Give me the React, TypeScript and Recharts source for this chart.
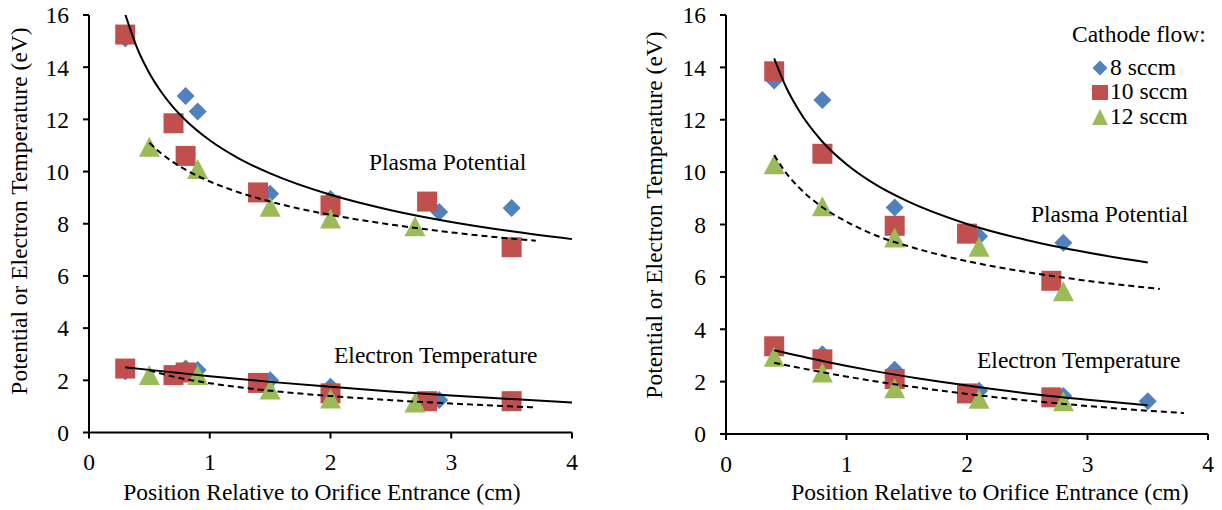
import React from "react";
import { ScatterChart, Scatter, XAxis, YAxis, Legend } from "recharts";

const FONT = "Liberation Serif, Times New Roman, serif";
const FS = 23.5;
const BLUE = "#4F81BD";
const RED = "#C0504D";
const GREEN = "#9BBB59";

const X_TICKS = [0, 1, 2, 3, 4];
const Y_TICKS = [0, 2, 4, 6, 8, 10, 12, 14, 16];
const FLOW_NAMES = ["8 sccm", "10 sccm", "12 sccm"];

// left panel: measured points
const LEFT_X_8 = [0.3, 0.8, 0.9, 1.5, 2.0, 2.9, 3.5];
const LEFT_PP_8 = [15.1, 12.9, 12.3, 9.15, 8.95, 8.45, 8.6];
const LEFT_TE_8 = [2.35, 2.45, 2.4, 2.0, 1.75, 1.25, 1.25];
const LEFT_X_10 = [0.3, 0.7, 0.8, 1.4, 2.0, 2.8, 3.5];
const LEFT_PP_10 = [15.25, 11.85, 10.6, 9.2, 8.7, 8.85, 7.1];
const LEFT_TE_10 = [2.45, 2.2, 2.3, 1.9, 1.5, 1.2, 1.2];
const LEFT_X_12 = [0.5, 0.9, 1.5, 2.0, 2.7];
const LEFT_PP_12 = [10.95, 10.1, 8.65, 8.2, 7.9];
const LEFT_TE_12 = [2.2, 2.2, 1.65, 1.3, 1.15];

// left panel: trend lines
const LEFT_FIT_PP_X = [0.3, 0.4, 0.5, 0.6, 0.7, 0.8, 1.0, 1.25, 1.5, 2.0, 2.5, 3.0, 3.5, 4.0];
const LEFT_FIT_PP = [16.03, 14.72, 13.77, 13.04, 12.45, 11.97, 11.2, 10.48, 9.93, 9.11, 8.52, 8.07, 7.71, 7.41];
const LEFT_FIT_PP12_X = [0.5, 0.6, 0.7, 0.8, 1.0, 1.25, 1.5, 2.0, 2.5, 3.0, 3.5, 3.7];
const LEFT_FIT_PP12 = [11.1, 10.69, 10.35, 10.07, 9.62, 9.19, 8.85, 8.34, 7.97, 7.67, 7.43, 7.35];
const LEFT_FIT_TE_X = [0.3, 0.5, 1.0, 1.5, 2.0, 2.5, 3.0, 3.5, 4.0];
const LEFT_FIT_TE = [2.5, 2.4, 2.16, 1.94, 1.75, 1.575, 1.42, 1.28, 1.15];
const LEFT_FIT_TE12_X = [0.5, 0.75, 1.0, 1.5, 2.0, 2.5, 3.0, 3.5, 3.7];
const LEFT_FIT_TE12 = [2.38, 2.09, 1.89, 1.6, 1.4, 1.24, 1.11, 1.0, 0.96];

// right panel: measured points
const RIGHT_PP_X_8 = [0.4, 0.8, 1.4, 2.1, 2.8];
const RIGHT_PP_8 = [13.5, 12.75, 8.65, 7.55, 7.3];
const RIGHT_TE_X_8 = [0.4, 0.8, 1.4, 2.1, 2.8, 3.5];
const RIGHT_TE_8 = [3.3, 3.05, 2.45, 1.65, 1.45, 1.25];
const RIGHT_X_10 = [0.4, 0.8, 1.4, 2.0, 2.7];
const RIGHT_PP_10 = [13.85, 10.7, 7.95, 7.65, 5.85];
const RIGHT_TE_10 = [3.35, 2.85, 2.1, 1.55, 1.4];
const RIGHT_X_12 = [0.4, 0.8, 1.4, 2.1, 2.8];
const RIGHT_PP_12 = [10.3, 8.7, 7.5, 7.15, 5.45];
const RIGHT_TE_12 = [2.95, 2.35, 1.75, 1.35, 1.25];

// right panel: trend lines
const RIGHT_FIT_PP_X = [0.4, 0.5, 0.6, 0.8, 1.0, 1.25, 1.5, 2.0, 2.5, 3.0, 3.5];
const RIGHT_FIT_PP = [14.34, 13.23, 12.39, 11.16, 10.3, 9.5, 8.9, 8.02, 7.4, 6.93, 6.55];
const RIGHT_FIT_PP12_X = [0.4, 0.5, 0.6, 0.8, 1.0, 1.25, 1.5, 2.0, 2.5, 3.0, 3.6];
const RIGHT_FIT_PP12 = [10.65, 9.96, 9.44, 8.66, 8.11, 7.57, 7.19, 6.6, 6.18, 5.85, 5.54];
const RIGHT_FIT_TE_X = [0.4, 0.8, 1.2, 1.6, 2.0, 2.5, 3.0, 3.5];
const RIGHT_FIT_TE = [3.2, 2.79, 2.43, 2.12, 1.85, 1.55, 1.31, 1.1];
const RIGHT_FIT_TE12_X = [0.4, 0.8, 1.2, 1.6, 2.0, 2.5, 3.0, 3.5, 3.8];
const RIGHT_FIT_TE12 = [2.72, 2.36, 2.04, 1.77, 1.53, 1.28, 1.07, 0.89, 0.8];

type Pt = { x: number; y: number };
const pts = (xs: number[], ys: number[]): Pt[] => xs.map((x, i) => ({ x, y: ys[i] }));

function Diamond(props: any) {
  const { cx, cy, fill } = props;
  if (cx == null || cy == null) return <g />;
  const r = 9;
  return <polygon points={`${cx},${cy - r} ${cx + r},${cy} ${cx},${cy + r} ${cx - r},${cy}`} fill={fill} />;
}

function Square(props: any) {
  const { cx, cy, fill } = props;
  if (cx == null || cy == null) return <g />;
  return <rect x={cx - 10} y={cy - 10} width={20} height={20} fill={fill} />;
}

function Triangle(props: any) {
  const { cx, cy, fill } = props;
  if (cx == null || cy == null) return <g />;
  return <polygon points={`${cx},${cy - 10} ${cx + 10.5},${cy + 10} ${cx - 10.5},${cy + 10}`} fill={fill} />;
}

const NoDot = () => <g />;

const SHAPES = [Diamond, Square, Triangle];
const COLORS = [BLUE, RED, GREEN];

// tick labels drawn by hand so the serif font sticks
function XTick(props: any) {
  const { x, y, payload } = props;
  return (
    <text x={x} y={y} dy="0.71em" textAnchor="middle" fill="#000" fontSize={FS} fontFamily={FONT} style={{ fontFamily: FONT }}>
      {payload.value}
    </text>
  );
}

function YTick(props: any) {
  const { x, y, payload } = props;
  return (
    <text x={x} y={y} dy="0.355em" textAnchor="end" fill="#000" fontSize={FS} fontFamily={FONT} style={{ fontFamily: FONT }}>
      {payload.value}
    </text>
  );
}

interface Trend {
  data: Pt[];
  dashed: boolean;
}

interface PanelProps {
  width: number;
  yAxisWidth: number;
  margin: { top: number; right: number; bottom: number; left: number };
  series: Pt[][];
  trends: Trend[];
  legend?: boolean;
}

function LegendBox() {
  const rows = [68, 92, 117];
  return (
    <div style={{ position: "relative", width: 150, height: 130, fontFamily: FONT, fontSize: FS, color: "#000" }}>
      <div style={{ position: "absolute", left: 0, top: 19, lineHeight: "30px", whiteSpace: "nowrap" }}>
        Cathode flow:
      </div>
      {FLOW_NAMES.map((name, i) => (
        <React.Fragment key={name}>
          <svg style={{ position: "absolute", left: 17, top: rows[i] - 11 }} width={22} height={22}>
            {i === 0 && <polygon points="11,3.5 18.5,11 11,18.5 3.5,11" fill={COLORS[i]} />}
            {i === 1 && <rect x={3} y={4} width={16} height={15} fill={COLORS[i]} />}
            {i === 2 && <polygon points="11,3 19,19 3,19" fill={COLORS[i]} />}
          </svg>
          <div style={{ position: "absolute", left: 38, top: rows[i] - 16, lineHeight: "30px", whiteSpace: "nowrap" }}>
            {name}
          </div>
        </React.Fragment>
      ))}
    </div>
  );
}

function Panel({ width, yAxisWidth, margin, series, trends, legend }: PanelProps) {
  const axisLine = { stroke: "#000", strokeWidth: 2 };
  return (
    <ScatterChart width={width} height={510} margin={margin} style={{ fontFamily: FONT }}>
      <XAxis
        type="number"
        dataKey="x"
        domain={[0, 4]}
        ticks={X_TICKS}
        height={40}
        tick={<XTick />}
        tickSize={6}
        tickMargin={15}
        axisLine={axisLine}
        tickLine={axisLine}
        allowDataOverflow
      />
      <YAxis
        type="number"
        dataKey="y"
        domain={[0, 16]}
        ticks={Y_TICKS}
        width={yAxisWidth}
        tick={<YTick />}
        tickSize={6}
        tickMargin={14}
        axisLine={axisLine}
        tickLine={axisLine}
        allowDataOverflow
      />
      {series.map((data, i) => (
        <Scatter
          key={FLOW_NAMES[i]}
          name={FLOW_NAMES[i]}
          data={data}
          fill={COLORS[i]}
          shape={SHAPES[i]}
          isAnimationActive={false}
        />
      ))}
      {trends.map((t, i) => (
        <Scatter
          key={"trend" + i}
          data={t.data}
          fill="#000"
          shape={NoDot}
          line={{ stroke: "#000", strokeWidth: 2, strokeDasharray: t.dashed ? "6 4" : undefined }}
          lineJointType="monotoneX"
          legendType="none"
          isAnimationActive={false}
        />
      ))}
      {legend && (
        <Legend
          layout="vertical"
          align="center"
          verticalAlign="middle"
          content={() => <LegendBox />}
          wrapperStyle={{ left: 461, top: 0, width: 150, height: 130 }}
        />
      )}
    </ScatterChart>
  );
}

function Note({ left, top, children, center }: { left: number; top: number; children: React.ReactNode; center?: boolean }) {
  return (
    <div
      style={{
        position: "absolute",
        left: center ? left - 300 : left,
        top,
        width: center ? 600 : undefined,
        textAlign: center ? "center" : "left",
        lineHeight: "30px",
        fontSize: FS,
        fontFamily: FONT,
        color: "#000",
        whiteSpace: "nowrap",
      }}
    >
      {children}
    </div>
  );
}

function YTitle({ cx, cy }: { cx: number; cy: number }) {
  return (
    <div
      style={{
        position: "absolute",
        left: cx - 220,
        top: cy - 15,
        width: 440,
        height: 30,
        lineHeight: "30px",
        textAlign: "center",
        fontSize: FS,
        fontFamily: FONT,
        color: "#000",
        whiteSpace: "nowrap",
        transform: "rotate(-90deg)",
      }}
    >
      Potential or Electron Temperature (eV)
    </div>
  );
}

export default function App() {
  const leftSeries = [
    [...pts(LEFT_X_8, LEFT_PP_8), ...pts(LEFT_X_8, LEFT_TE_8)],
    [...pts(LEFT_X_10, LEFT_PP_10), ...pts(LEFT_X_10, LEFT_TE_10)],
    [...pts(LEFT_X_12, LEFT_PP_12), ...pts(LEFT_X_12, LEFT_TE_12)],
  ];
  const leftTrends = [
    { data: pts(LEFT_FIT_PP_X, LEFT_FIT_PP), dashed: false },
    { data: pts(LEFT_FIT_PP12_X, LEFT_FIT_PP12), dashed: true },
    { data: pts(LEFT_FIT_TE_X, LEFT_FIT_TE), dashed: false },
    { data: pts(LEFT_FIT_TE12_X, LEFT_FIT_TE12), dashed: true },
  ];
  const rightSeries = [
    [...pts(RIGHT_PP_X_8, RIGHT_PP_8), ...pts(RIGHT_TE_X_8, RIGHT_TE_8)],
    [...pts(RIGHT_X_10, RIGHT_PP_10), ...pts(RIGHT_X_10, RIGHT_TE_10)],
    [...pts(RIGHT_X_12, RIGHT_PP_12), ...pts(RIGHT_X_12, RIGHT_TE_12)],
  ];
  const rightTrends = [
    { data: pts(RIGHT_FIT_PP_X, RIGHT_FIT_PP), dashed: false },
    { data: pts(RIGHT_FIT_PP12_X, RIGHT_FIT_PP12), dashed: true },
    { data: pts(RIGHT_FIT_TE_X, RIGHT_FIT_TE), dashed: false },
    { data: pts(RIGHT_FIT_TE12_X, RIGHT_FIT_TE12), dashed: true },
  ];

  return (
    <div
      style={{
        position: "absolute",
        left: 0,
        top: 0,
        width: 1222,
        height: 510,
        background: "#fff",
        overflow: "hidden",
        fontFamily: FONT,
      }}
    >
      <div style={{ position: "absolute", left: 0, top: 0 }}>
        <Panel
          width={600}
          yAxisWidth={89}
          margin={{ top: 15, right: 28, bottom: 37.5, left: 0 }}
          series={leftSeries}
          trends={leftTrends}
        />
      </div>
      <div style={{ position: "absolute", left: 611, top: 0 }}>
        <Panel
          width={611}
          yAxisWidth={115}
          margin={{ top: 15, right: 14, bottom: 36, left: 0 }}
          series={rightSeries}
          trends={rightTrends}
          legend
        />
      </div>

      <YTitle cx={19} cy={211} />
      <YTitle cx={654} cy={215} />
      <Note left={322} top={477} center>Position Relative to Orifice Entrance (cm)</Note>
      <Note left={990} top={477} center>Position Relative to Orifice Entrance (cm)</Note>

      <Note left={369} top={147}>Plasma Potential</Note>
      <Note left={334} top={340}>Electron Temperature</Note>
      <Note left={1031} top={199}>Plasma Potential</Note>
      <Note left={977} top={345}>Electron Temperature</Note>
    </div>
  );
}
